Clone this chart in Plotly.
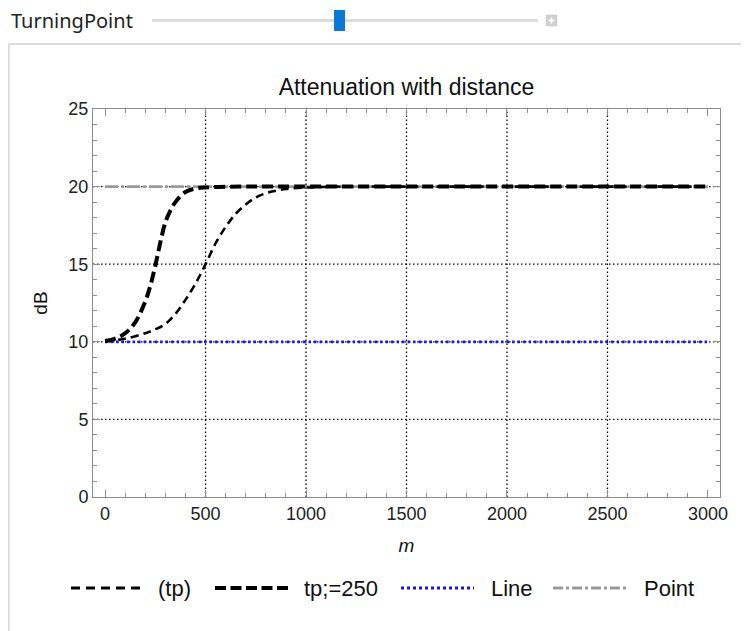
import plotly.graph_objects as go

# ---------------- data ----------------
tp_x = [0, 100, 200, 250, 300, 350, 400, 450, 500, 550, 600, 650, 700, 750,
        800, 850, 900, 1000, 1100, 1200, 1500, 2000, 2500, 3000]
tp_y = [10.02, 10.2, 10.55, 10.8, 11.15, 11.8, 12.7, 13.75, 15.0, 16.35, 17.4,
        18.25, 18.85, 19.3, 19.57, 19.73, 19.85, 19.94, 19.98, 20.0, 20.0,
        20.0, 20.0, 20.0]

tp250_x = [0, 50, 100, 150, 200, 225, 250, 275, 300, 325, 350, 400, 450, 500,
           600, 700, 800, 1000, 1500, 2000, 2500, 3000]
tp250_y = [10.05, 10.2, 10.55, 11.25, 12.6, 13.6, 14.9, 16.4, 17.7, 18.45,
           19.0, 19.65, 19.88, 19.95, 19.99, 20.0, 20.0, 20.0, 20.0, 20.0,
           20.0, 20.0]

line_x = [0, 3000]
line_y = [10, 10]
point_x = [0, 3000]
point_y = [20, 20]

series_names = ["(tp)", "tp;=250", "Line", "Point"]

x_ticks = [0, 500, 1000, 1500, 2000, 2500, 3000]
y_ticks = [0, 5, 10, 15, 20, 25]
x_grid = [500, 1000, 1500, 2000, 2500]
y_grid = [5, 10, 15, 20]

title_text = "Attenuation with distance"
x_title = "m"
y_title = "dB"
slider_label = "TurningPoint"

# ---------------- layout geometry ----------------
# the page body has an 8px margin, so the figure is offset by OFF
OFF = 8
W, H = 749 - OFF, 631 - OFF
L, R, T, B = 93 - OFF, 720 - OFF, 109 - OFF, 497 - OFF


def px(x):  # page pixel -> paper x
    return (x - OFF - L) / (R - L)


def py(y):  # page pixel -> paper y
    return (B - (y - OFF)) / (B - T)


FONT = "Liberation Sans, Arial, sans-serif"
styles = [
    dict(color="black", width=2.6, dash="8px,5px"),
    dict(color="black", width=4, dash="11px,5px"),
    dict(color="#1414f0", width=2.8, dash="2.5px,3px"),
    dict(color="#999999", width=2.8, dash="13px,3px,3px,3px"),
]

fig = go.Figure()
data = [(tp_x, tp_y), (tp250_x, tp250_y), (line_x, line_y), (point_x, point_y)]
order = [3, 2, 0, 1]  # draw constants below the curves
for i in order:
    xs, ys = data[i]
    fig.add_trace(go.Scatter(x=xs, y=ys, mode="lines", name=series_names[i],
                             line=styles[i], showlegend=False,
                             line_shape="spline"))

shapes = []
# dotted grid lines (through axis scales)
for gx in x_grid:
    shapes.append(dict(type="line", xref="x", yref="paper", x0=gx, x1=gx,
                       y0=0, y1=1, layer="below",
                       line=dict(color="black", width=1.3, dash="1.5px,2.5px")))
for gy in y_grid:
    shapes.append(dict(type="line", xref="paper", yref="y", x0=0, x1=1,
                       y0=gy, y1=gy, layer="below",
                       line=dict(color="black", width=1.3, dash="1.5px,2.5px")))

# legend samples drawn below the plot
leg_y = 588
leg_segments = [(71, 141), (215, 288), (401, 474), (553, 628)]
leg_text_x = [156, 302, 489, 642]
legend_styles = [
    dict(color="black", width=2.8, dash="9px,6px"),
    dict(color="black", width=4, dash="11px,4.5px"),
    dict(color="#1414f0", width=2.8, dash="3px,3px"),
    dict(color="#999999", width=2.8, dash="10px,3px,3px,3px"),
]
annotations = []
for i, name in enumerate(series_names):
    x0, x1 = leg_segments[i]
    shapes.append(dict(type="line", xref="paper", yref="paper",
                       x0=px(x0), x1=px(x1), y0=py(leg_y), y1=py(leg_y),
                       line=legend_styles[i]))
    annotations.append(dict(xref="paper", yref="paper", x=px(leg_text_x[i]),
                            y=py(leg_y), text=name, showarrow=False,
                            xanchor="left", yanchor="middle",
                            font=dict(family=FONT, size=22, color="#111")))

# panel border
shapes.append(dict(type="line", xref="paper", yref="paper", x0=px(8.7), x1=px(770),
                   y0=py(44), y1=py(44), line=dict(color="#dadada", width=2)))
shapes.append(dict(type="line", xref="paper", yref="paper", x0=px(8.7), x1=px(8.7),
                   y0=py(44), y1=py(660), line=dict(color="#dadada", width=2)))

# slider widget
shapes.append(dict(type="line", xref="paper", yref="paper", x0=px(152), x1=px(538),
                   y0=py(20.5), y1=py(20.5), line=dict(color="#dcdcdc", width=3)))
shapes.append(dict(type="rect", xref="paper", yref="paper", x0=px(334), x1=px(345),
                   y0=py(31), y1=py(10), fillcolor="#0a78d8",
                   line=dict(color="#0a78d8", width=0)))
shapes.append(dict(type="rect", xref="paper", yref="paper", x0=px(546), x1=px(557),
                   y0=py(26), y1=py(15), fillcolor="#cfcfcf",
                   line=dict(color="#c4c4c4", width=0.5)))
shapes.append(dict(type="line", xref="paper", yref="paper", x0=px(548.5), x1=px(554.5),
                   y0=py(20.5), y1=py(20.5), line=dict(color="white", width=1.5)))
shapes.append(dict(type="line", xref="paper", yref="paper", x0=px(551.5), x1=px(551.5),
                   y0=py(17.5), y1=py(23.5), line=dict(color="white", width=1.5)))
annotations.append(dict(xref="paper", yref="paper", x=px(9), y=py(20.5),
                        text=slider_label, showarrow=False, xanchor="left",
                        yanchor="middle",
                        font=dict(family="Noto Sans, sans-serif", size=20,
                                  color="#222")))

axis_common = dict(ticks="inside", ticklen=7, tickwidth=1, tickcolor="#8c8c8c",
                   showline=True, linecolor="#8c8c8c", linewidth=1,
                   mirror="ticks", showgrid=False, zeroline=False,
                   tickfont=dict(family=FONT, size=18, color="#222"))

fig.update_layout(
    width=W, height=H, autosize=False,
    margin=dict(l=L, r=W - R, t=T, b=H - B, pad=0),
    paper_bgcolor="white", plot_bgcolor="white",
    title=dict(text=title_text, xref="paper", x=0.5, xanchor="center",
               yref="container", y=1 - (87 - OFF) / H, yanchor="middle",
               font=dict(family=FONT, size=23, color="#111")),
    xaxis=dict(range=[-60, 3060], tickvals=x_ticks, **axis_common,
               minor=dict(dtick=100, tick0=0, ticklen=4, tickcolor="#8c8c8c",
                          ticks="inside"),
               title=dict(text="<i>" + x_title + "</i>", standoff=16,
                          font=dict(family=FONT, size=19, color="#111"))),
    yaxis=dict(range=[0, 25], tickvals=y_ticks, **axis_common,
               minor=dict(dtick=1, tick0=0, ticklen=4, tickcolor="#8c8c8c",
                          ticks="inside"),
               title=dict(text=y_title, standoff=15,
                          font=dict(family=FONT, size=19, color="#111"))),
    shapes=shapes, annotations=annotations,
    showlegend=False,
)

fig.write_html("out.html")
